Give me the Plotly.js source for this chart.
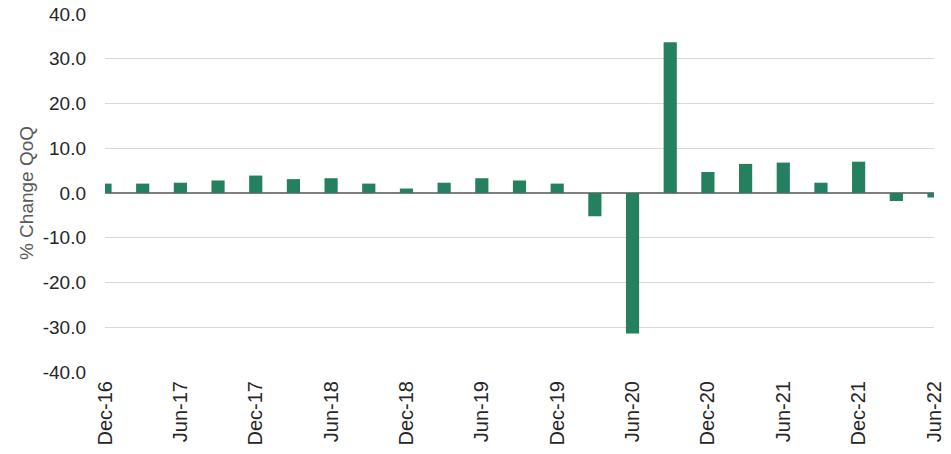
<!DOCTYPE html>
<html>
<head>
<meta charset="utf-8">
<script src="https://cdn.plot.ly/plotly-3.0.1.min.js"></script>
<style>html,body{margin:0;padding:0;background:#fff;}#chart{width:951px;height:454px;}</style>
</head>
<body>
<div id="chart"></div>
<script>
const quarters = ["Dec-16","Mar-17","Jun-17","Sep-17","Dec-17","Mar-18","Jun-18","Sep-18","Dec-18","Mar-19","Jun-19","Sep-19","Dec-19","Mar-20","Jun-20","Sep-20","Dec-20","Mar-21","Jun-21","Sep-21","Dec-21","Mar-22","Jun-22"];
const pctChange = [2.1, 2.1, 2.3, 2.8, 3.9, 3.1, 3.3, 2.1, 1.0, 2.3, 3.3, 2.8, 2.1, -5.2, -31.4, 33.7, 4.7, 6.5, 6.8, 2.3, 7.0, -1.8, -1.0];
const tickLabels = ["Dec-16","Jun-17","Dec-17","Jun-18","Dec-18","Jun-19","Dec-19","Jun-20","Dec-20","Jun-21","Dec-21","Jun-22"];
const yTicks = [-40, -30, -20, -10, 0, 10, 20, 30, 40];

const xIdx = quarters.map((q, i) => i);
const tickPos = tickLabels.map(l => quarters.indexOf(l));

const trace = {
  type: 'bar',
  x: xIdx,
  y: pctChange,
  width: 0.35,
  marker: {color: '#25805f', line: {width: 0}},
  hoverinfo: 'y'
};

const layout = {
  width: 951, height: 454,
  margin: {l: 105, r: 17, t: 14, b: 82, pad: 0},
  paper_bgcolor: '#ffffff', plot_bgcolor: '#ffffff',
  showlegend: false,
  font: {family: 'Liberation Sans, Arial, sans-serif', color: '#262626'},
  xaxis: {
    range: [0, quarters.length - 1],
    tickmode: 'array', tickvals: tickPos, ticktext: tickLabels,
    tickangle: -90, ticks: '', showgrid: false, zeroline: false, showline: false,
    tickfont: {size: 20, color: '#262626'},
    ticklabelstandoff: 4
  },
  yaxis: {
    range: [-40, 40],
    tickmode: 'array', tickvals: yTicks, ticktext: yTicks.map(v => v.toFixed(1)),
    ticks: '', ticklen: 0, showline: false,
    showgrid: true, gridcolor: '#d9d9d9', gridwidth: 1,
    zeroline: true, zerolinecolor: '#7f7f7f', zerolinewidth: 2,
    tickfont: {size: 19, color: '#262626'},
    ticklabelstandoff: 18,
    title: {text: '% Change QoQ', font: {size: 19, color: '#595959'}, standoff: 4}
  },
  bargap: 0.6
};

Plotly.newPlot('chart', [trace], layout, {displayModeBar: false, staticPlot: true});
</script>
</body>
</html>
